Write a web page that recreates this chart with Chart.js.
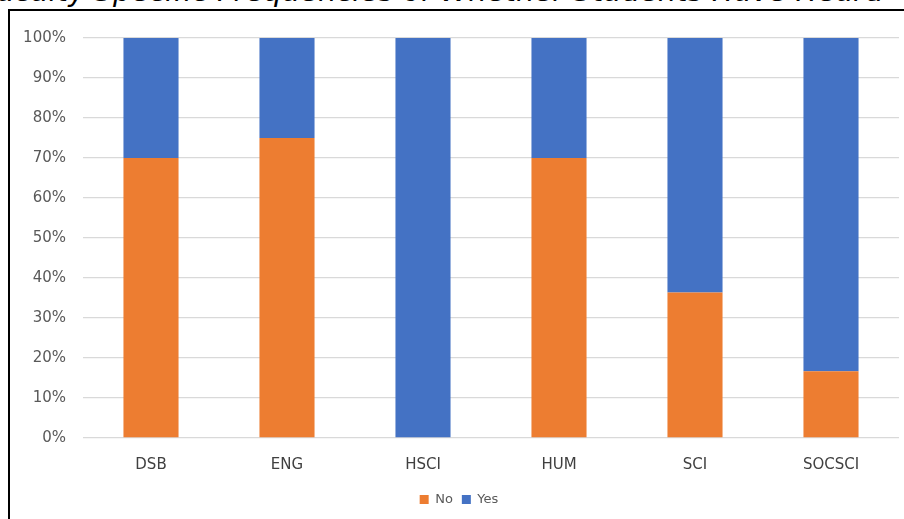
<!DOCTYPE html>
<html>
<head>
<meta charset="utf-8">
<script src="https://cdn.jsdelivr.net/npm/chart.js@4/dist/chart.umd.min.js"></script>
<style>
  html, body { margin: 0; padding: 0; background: #fff; }
  #wrap { position: relative; width: 904px; height: 519px; overflow: hidden; background: #fff; }
  #title {
    position: absolute; left: -20px; top: -25px; white-space: nowrap;
    font-family: "DejaVu Sans", sans-serif; font-style: italic;
    font-size: 29px; line-height: 32px; color: #000;
  }
  #frame {
    position: absolute; left: 8px; top: 9px; width: 920px; height: 530px;
    border-left: 2px solid #000; border-top: 2px solid #000;
  }
  #chart { position: absolute; left: 0; top: 0; }
</style>
</head>
<body>
<div id="wrap">
  <div id="title">Faculty Specific Frequencies of Whether Students Have Heard</div>
  <div id="frame"></div>
  <canvas id="chart" width="904" height="519"></canvas>
</div>
<script>
const categories = ["DSB", "ENG", "HSCI", "HUM", "SCI", "SOCSCI"];
const noValues  = [70, 75, 0, 70, 36.4, 16.7];
const yesValues = [30, 25, 100, 30, 63.6, 83.3];
const seriesNames = ["No", "Yes"];

const LABEL_FONT = "'DejaVu Sans', sans-serif";

new Chart(document.getElementById("chart"), {
  type: "bar",
  data: {
    labels: categories,
    datasets: [
      { label: seriesNames[0], data: noValues, backgroundColor: "#ED7D31",
        categoryPercentage: 1, barPercentage: 0.405 },
      { label: seriesNames[1], data: yesValues, backgroundColor: "#4472C4",
        categoryPercentage: 1, barPercentage: 0.405 }
    ]
  },
  options: {
    responsive: false,
    animation: false,
    layout: { padding: { top: 38, right: 5, left: 19, bottom: 3 } },
    plugins: {
      legend: {
        position: "bottom",
        labels: {
          boxWidth: 9, boxHeight: 9, padding: 9,
          color: "#595959",
          font: { family: LABEL_FONT, size: 13 }
        }
      },
      tooltip: { enabled: false }
    },
    scales: {
      x: {
        stacked: true,
        grid: { display: false, drawTicks: false },
        border: { display: false },
        ticks: { color: "#404040", padding: 18, font: { family: LABEL_FONT, size: 15 } },
        afterFit: (s) => { s.height = 46; }
      },
      y: {
        stacked: true,
        min: 0, max: 100,
        grid: { color: "#d9d9d9", lineWidth: 1.3, drawTicks: false },
        border: { display: false },
        ticks: {
          stepSize: 10, padding: 17, color: "#595959",
          font: { family: LABEL_FONT, size: 15 },
          callback: (v) => v + "%"
        },
        afterFit: (s) => { s.width = 64; }
      }
    }
  }
});
</script>
</body>
</html>
